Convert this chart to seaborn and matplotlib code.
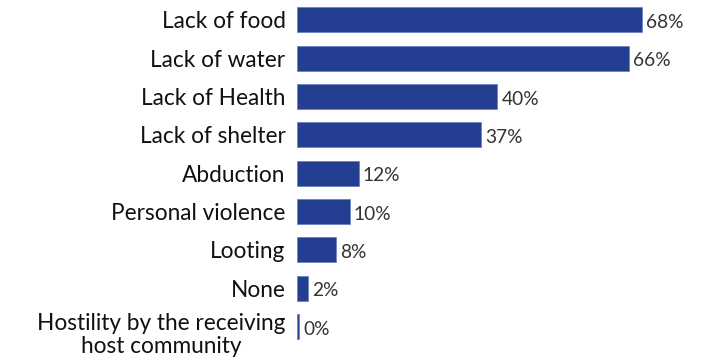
import matplotlib
matplotlib.use("Agg")
import matplotlib.pyplot as plt
import matplotlib.transforms as mtransforms
import seaborn as sns
import pandas as pd

categories = ["Lack of food", "Lack of water", "Lack of Health", "Lack of shelter",
              "Abduction", "Personal violence", "Looting", "None",
              "Hostility by the receiving\nhost community"]
values = [68.6, 66.1, 39.9, 36.6, 12.3, 10.5, 7.9, 2.2, 0.4]
value_labels = ["68%", "66%", "40%", "37%", "12%", "10%", "8%", "2%", "0%"]

sns.set_theme(style="white")
plt.rcParams['font.family'] = ['Lato', 'DejaVu Sans']

df = pd.DataFrame({"cat": categories, "val": values})

fig = plt.figure(figsize=(7.02, 3.61), dpi=100)
ax = fig.add_axes([296.7/702, 0.0424, 0.5732, 0.9556])

sns.barplot(data=df, y="cat", x="val", orient="h", color="#243F91",
            saturation=1, width=0.652, edgecolor="#6b84c2", linewidth=0.6, ax=ax)

ax.set_xlim(0, 80)
ax.set_ylim(8.5, -0.5)
ax.set_xlabel("")
ax.set_ylabel("")
ax.set_xticks([])
for s in ax.spines.values():
    s.set_visible(False)

ax.tick_params(axis="y", length=0, pad=8, labelsize=16.3, labelcolor="#111111")
labels = ax.get_yticklabels()
for lab in labels:
    lab.set_multialignment("center")
    lab.set_linespacing(1.15)
# shift two-line label down so first line aligns with bar
last = labels[-1]
last.set_transform(last.get_transform() + mtransforms.ScaledTranslation(0, -5/100, fig.dpi_scale_trans))

for i, (v, t) in enumerate(zip(values, value_labels)):
    ax.annotate(t, xy=(v, i), xytext=(3, -2), textcoords="offset points",
                ha="left", va="center", fontsize=13.8, color="#333333")

fig.savefig("out.png", dpi=100)
